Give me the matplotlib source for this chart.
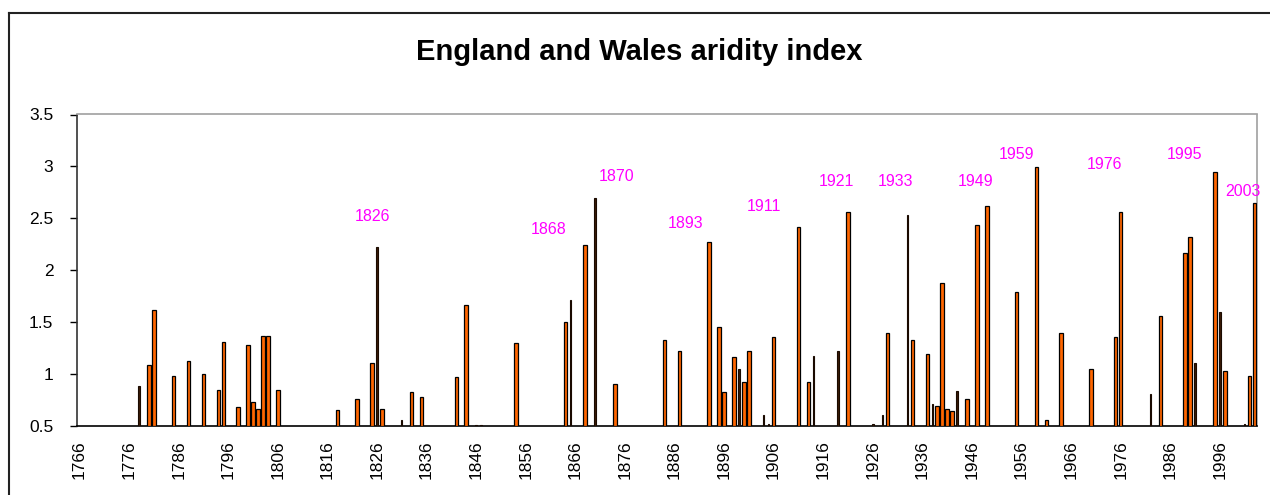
import matplotlib
matplotlib.use("Agg")
import matplotlib.pyplot as plt
from matplotlib.lines import Line2D
import numpy as np

plt.rcParams['font.family'] = ['Liberation Sans', 'DejaVu Sans']

# ---- data ----
first_year = 1766
last_year = 2003
years = [1778, 1780, 1781, 1785, 1788, 1791, 1794, 1795, 1798, 1800, 1801, 1802,
         1803, 1804, 1806, 1818, 1822, 1825, 1826, 1827, 1831, 1833, 1835, 1842,
         1844, 1846, 1847, 1854, 1864, 1865, 1868, 1870, 1874, 1884, 1887, 1893,
         1895, 1896, 1898, 1899, 1900, 1901, 1904, 1905, 1906, 1911, 1913, 1914,
         1919, 1921, 1926, 1928, 1929, 1933, 1934, 1937, 1938, 1939, 1940, 1941,
         1942, 1943, 1945, 1947, 1949, 1955, 1959, 1961, 1964, 1970, 1975, 1976,
         1982, 1984, 1989, 1990, 1991, 1995, 1996, 1997, 2001, 2002, 2003]
values = [0.89, 1.09, 1.62, 0.98, 1.13, 1.00, 0.85, 1.31, 0.68, 1.28, 0.73, 0.66,
          1.37, 1.37, 0.85, 0.65, 0.76, 1.11, 2.22, 0.66, 0.56, 0.83, 0.78, 0.97,
          1.67, 0.51, 0.51, 1.30, 1.50, 1.71, 2.24, 2.70, 0.90, 1.33, 1.22, 2.27,
          1.45, 0.83, 1.16, 1.05, 0.92, 1.22, 0.61, 0.52, 1.36, 2.42, 0.92, 1.17,
          1.22, 2.56, 0.515, 0.61, 1.40, 2.53, 1.33, 1.19, 0.71, 0.69, 1.88, 0.66,
          0.64, 0.84, 0.76, 2.44, 2.62, 1.79, 2.99, 0.56, 1.40, 1.05, 1.36, 2.56,
          0.81, 1.56, 2.17, 2.32, 1.11, 2.95, 1.60, 1.03, 0.515, 0.98, 2.65]
# bars that render as narrow dark strokes in the original
narrow_years = [1778, 1826, 1831, 1846, 1847, 1865, 1870, 1899, 1904, 1905, 1914,
                1919, 1926, 1928, 1933, 1938, 1943, 1982, 1991, 1996, 2001]
label_texts = ['1826', '1868', '1870', '1893', '1911', '1921', '1933', '1949',
               '1959', '1976', '1995', '2003']
label_x = [1825.0, 1860.7, 1874.3, 1888.2, 1904.1, 1918.6, 1930.5, 1946.8,
           1954.9, 1972.8, 1988.9, 2000.6]
label_y = [2.52, 2.39, 2.90, 2.455, 2.61, 2.85, 2.85, 2.85, 3.11, 3.02, 3.115, 2.76]
yticks = [0.5, 1, 1.5, 2, 2.5, 3, 3.5]
ytick_labels = ['0.5', '1', '1.5', '2', '2.5', '3', '3.5']

# ---- figure ----
fig = plt.figure(figsize=(12.7, 4.95), dpi=100)
ax = fig.add_axes([77/1270, 1-426/495, (1257-77)/1270, (426-114.5)/495])

all_years = np.arange(first_year, last_year + 1)
idx = {y: i for i, y in enumerate(all_years)}

wide_x = [idx[y] for y, v in zip(years, values) if y not in narrow_years]
wide_h = [v - 0.5 for y, v in zip(years, values) if y not in narrow_years]
thin_x = [idx[y] for y, v in zip(years, values) if y in narrow_years]
thin_h = [v - 0.5 for y, v in zip(years, values) if y in narrow_years]

ax.bar(wide_x, wide_h, bottom=0.5, width=0.7, color='#FF6600',
       edgecolor='black', linewidth=0.9, zorder=3)
ax.bar(thin_x, thin_h, bottom=0.5, width=0.3, color='#3a1a05',
       edgecolor='#1a0a00', linewidth=0.8, zorder=3)

for t, x, y in zip(label_texts, label_x, label_y):
    ax.text(x - first_year, y, t, color='#FF00FF', fontsize=11.5,
            ha='center', va='center', clip_on=False)

ax.set_xlim(-0.5, len(all_years) - 0.5)
ax.set_ylim(0.5, 3.5)
ax.set_yticks(yticks)
ax.set_yticklabels(ytick_labels)
xt = list(range(0, len(all_years), 10))
ax.set_xticks(xt)
ax.set_xticklabels([str(all_years[i]) for i in xt], rotation=90)
ax.tick_params(axis='x', length=0, pad=10, labelsize=12.5)
ax.tick_params(axis='y', length=5, width=1, direction='out', pad=12,
               labelsize=12.5)

ax.spines['left'].set_color('#333333')
ax.spines['bottom'].set_color('black')
ax.spines['top'].set_color('#a0a0a0')
ax.spines['right'].set_color('#a0a0a0')
for s in ax.spines.values():
    s.set_linewidth(1.2)

fig.text(639.5/1270, 1-52/495, 'England and Wales aridity index',
         fontsize=21, fontweight='bold', ha='center', va='center')

# outer chart frame (left and top visible)
fig.add_artist(Line2D([8.7/1270, 8.7/1270], [0, 1-13/495], color='#222222',
                      linewidth=1.5, transform=fig.transFigure))
fig.add_artist(Line2D([8.7/1270, 1], [1-13/495, 1-13/495], color='#222222',
                      linewidth=1.5, transform=fig.transFigure))

fig.savefig('out.png', dpi=100)
